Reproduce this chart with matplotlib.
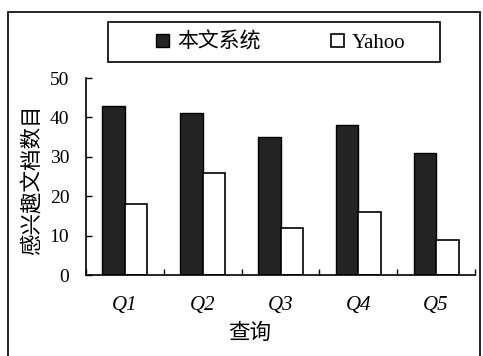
import matplotlib
matplotlib.use("Agg")
import matplotlib.pyplot as plt
import numpy as np
from matplotlib.patches import Rectangle

queries = ["Q1", "Q2", "Q3", "Q4", "Q5"]
ours = [43, 41, 35, 38, 31]
yahoo = [18, 26, 12, 16, 9]
series_names = ["本文系统", "Yahoo"]

CJK = ["Noto Sans CJK SC", "DejaVu Sans"]
SERIF = ["Liberation Serif", "DejaVu Serif"]

W, H = 483, 356
fig = plt.figure(figsize=(W / 100, H / 100), dpi=100)
ax = fig.add_axes([86 / W, 1 - 275 / H, 389 / W, 197 / H])

x = np.arange(len(queries))
w = 0.29
ax.bar(x - w / 2, ours, w, color="#232323", edgecolor="black", linewidth=1.0,
       label=series_names[0])
ax.bar(x + w / 2, yahoo, w, color="white", edgecolor="black", linewidth=1.2,
       label=series_names[1])

ax.set_xlim(-0.5, len(queries) - 0.5)
ax.set_ylim(0, 50)
ax.set_yticks(range(0, 51, 10))
ax.set_xticks(x)
ax.set_xticklabels(queries, fontstyle="italic", family=SERIF, fontsize=15)
ax.set_xticks(np.arange(-0.5, len(queries)), minor=True)
ax.tick_params(axis="x", which="major", length=0, pad=15)
ax.tick_params(axis="x", which="minor", direction="in", length=4, width=1)
ax.tick_params(axis="y", direction="in", length=4, width=1, labelsize=14, pad=12)
for lab in ax.get_yticklabels():
    lab.set_family(SERIF)
for s in ("top", "right"):
    ax.spines[s].set_visible(False)
for s in ("left", "bottom"):
    ax.spines[s].set_linewidth(1.2)

fig.text(33 / W, 1 - 180 / H, "感兴趣文档数目", family=CJK, fontsize=15.5,
         rotation=90, ha="center", va="center")
fig.text(250 / W, 1 - 333 / H, "查询", family=CJK, fontsize=15.5,
         ha="center", va="center")

leg = fig.legend(loc="center", bbox_to_anchor=(281 / W, 1 - 42 / H), ncol=2,
                 prop={"family": CJK, "size": 15}, frameon=False,
                 columnspacing=3.4, handlelength=0.6, handleheight=0.6,
                 handletextpad=0.4, borderpad=0, borderaxespad=0)
leg.get_texts()[1].set_family(SERIF)

fig.patches.append(Rectangle((108 / W, 1 - 62 / H), 332 / W, 40 / H,
                             transform=fig.transFigure, fill=False,
                             edgecolor="black", linewidth=1.2))
fig.patches.append(Rectangle((8 / W, -0.05), 472 / W, 1.05 - 12 / H,
                             transform=fig.transFigure, fill=False,
                             edgecolor="black", linewidth=1.2))

fig.savefig("out.png", dpi=100)
